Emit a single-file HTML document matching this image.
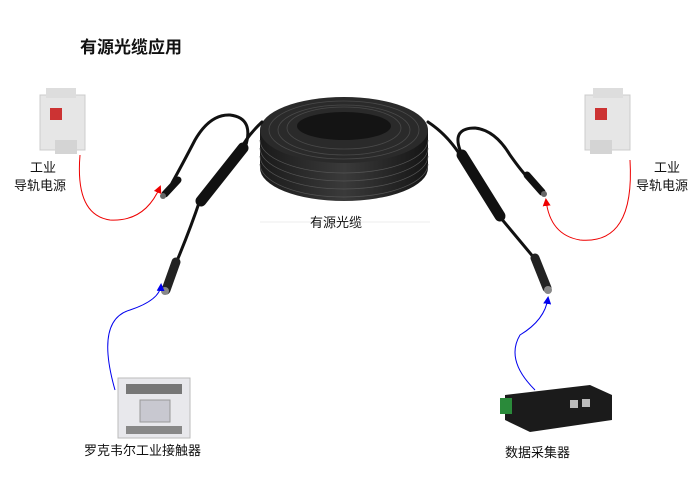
<!DOCTYPE html>
<html><head><meta charset="utf-8"><style>
body{margin:0;background:#fff;}
svg{display:block}
text{font-family:"Liberation Sans","Noto Sans CJK SC",sans-serif;fill:#111}
</style></head><body>
<svg width="700" height="495" viewBox="0 0 700 495">
<defs>
<marker id="ar" markerWidth="8" markerHeight="8" refX="6" refY="4" orient="auto" markerUnits="userSpaceOnUse"><path d="M0,0 L8,4 L0,8 z" fill="#e00"/></marker>
<marker id="ab" markerWidth="8" markerHeight="8" refX="6" refY="4" orient="auto" markerUnits="userSpaceOnUse"><path d="M0,0 L8,4 L0,8 z" fill="#00e"/></marker>
<linearGradient id="cg" x1="0" x2="1"><stop offset="0" stop-color="#1a1a1a"/><stop offset=".5" stop-color="#3a3a3a"/><stop offset="1" stop-color="#151515"/></linearGradient>
</defs>
<text x="80" y="53" font-size="17" font-weight="bold">有源光缆应用</text>

<!-- coil -->
<path d="M260,130 L260,168 A84,33 0 0 0 428,168 L428,130 z" fill="url(#cg)"/>
<g stroke="#555" stroke-width="0.7" fill="none">
<path d="M260,140 A84,33 0 0 0 428,140"/><path d="M260,148 A84,33 0 0 0 428,148"/><path d="M260,156 A84,33 0 0 0 428,156"/><path d="M260,164 A84,33 0 0 0 428,164"/>
</g>
<ellipse cx="344" cy="130" rx="84" ry="33" fill="#2a2a2a"/>
<g stroke="#4a4a4a" stroke-width="0.8" fill="none">
<ellipse cx="344" cy="130" rx="75" ry="29"/><ellipse cx="344" cy="130" rx="66" ry="25"/><ellipse cx="344" cy="128" rx="57" ry="21"/>
</g>
<ellipse cx="344" cy="126" rx="47" ry="14" fill="#141414"/>
<line x1="260" y1="222" x2="430" y2="222" stroke="#eee"/>
<text x="310" y="227" font-size="13">有源光缆</text>

<!-- left cable -->
<g fill="none" stroke="#111" stroke-linecap="round">
<path d="M262,122 Q248,135 240,150" stroke-width="3"/>
<path d="M245,148 Q255,118 230,115 Q210,114 195,140 Q182,165 172,183" stroke-width="3"/>
<path d="M200,200 Q190,230 174,268" stroke-width="3"/>
<path d="M243,148 L201,201" stroke-width="11"/>
<path d="M178,180 L165,194" stroke-width="7"/>
<path d="M176,262 L166,290" stroke-width="9" stroke="#222"/>
</g>
<circle cx="163" cy="196" r="3" fill="#666"/>
<circle cx="165" cy="291" r="4" fill="#888"/>

<!-- right cable -->
<g fill="none" stroke="#111" stroke-linecap="round">
<path d="M428,122 Q448,135 462,158" stroke-width="3"/>
<path d="M460,150 Q452,128 475,128 Q495,130 510,155 Q522,172 530,180" stroke-width="3"/>
<path d="M500,217 Q515,235 540,265" stroke-width="3"/>
<path d="M462,155 L500,216" stroke-width="11"/>
<path d="M527,175 L542,192" stroke-width="7"/>
<path d="M535,258 L547,288" stroke-width="9" stroke="#222"/>
</g>
<circle cx="544" cy="194" r="3" fill="#666"/>
<circle cx="548" cy="290" r="4" fill="#888"/>

<!-- red arrows -->
<path d="M80,155 Q75,215 110,220 Q145,222 160,187" fill="none" stroke="#e00" stroke-width="1" marker-end="url(#ar)"/>
<path d="M630,160 Q635,245 580,240 Q550,235 546,200" fill="none" stroke="#e00" stroke-width="1" marker-end="url(#ar)"/>
<!-- blue arrows -->
<path d="M115,390 Q95,320 130,310 Q160,300 161,285" fill="none" stroke="#00e" stroke-width="1" marker-end="url(#ab)"/>
<path d="M535,390 Q505,360 520,335 Q545,320 548,298" fill="none" stroke="#00e" stroke-width="1" marker-end="url(#ab)"/>

<!-- power supplies -->
<g>
<rect x="40" y="95" width="45" height="55" fill="#e6e6e6" stroke="#ccc"/>
<rect x="46" y="88" width="30" height="10" fill="#ddd"/>
<rect x="50" y="108" width="12" height="12" fill="#c33"/>
<rect x="55" y="140" width="22" height="14" fill="#d4d4d4"/>
<rect x="585" y="95" width="45" height="55" fill="#e6e6e6" stroke="#ccc"/>
<rect x="593" y="88" width="30" height="10" fill="#ddd"/>
<rect x="595" y="108" width="12" height="12" fill="#c33"/>
<rect x="590" y="140" width="22" height="14" fill="#d4d4d4"/>
</g>
<text x="30" y="172" font-size="13">工业</text>
<text x="14" y="190" font-size="13">导轨电源</text>
<text x="654" y="172" font-size="13">工业</text>
<text x="636" y="190" font-size="13">导轨电源</text>

<!-- contactor -->
<rect x="118" y="378" width="72" height="60" fill="#e8e8ec" stroke="#bbb"/>
<rect x="126" y="384" width="56" height="10" fill="#777"/>
<rect x="140" y="400" width="30" height="22" fill="#c8c8d0" stroke="#999"/>
<rect x="126" y="426" width="56" height="8" fill="#888"/>
<text x="84" y="455" font-size="13">罗克韦尔工业接触器</text>

<!-- data collector -->
<path d="M505,395 L590,385 L612,395 L612,420 L530,432 L505,420 z" fill="#1b1b1b"/>
<rect x="500" y="398" width="12" height="16" fill="#2a8a3a"/>
<rect x="570" y="400" width="8" height="8" fill="#bbb"/><rect x="582" y="399" width="8" height="8" fill="#bbb"/>
<text x="505" y="457" font-size="13">数据采集器</text>
</svg>
</body></html>
